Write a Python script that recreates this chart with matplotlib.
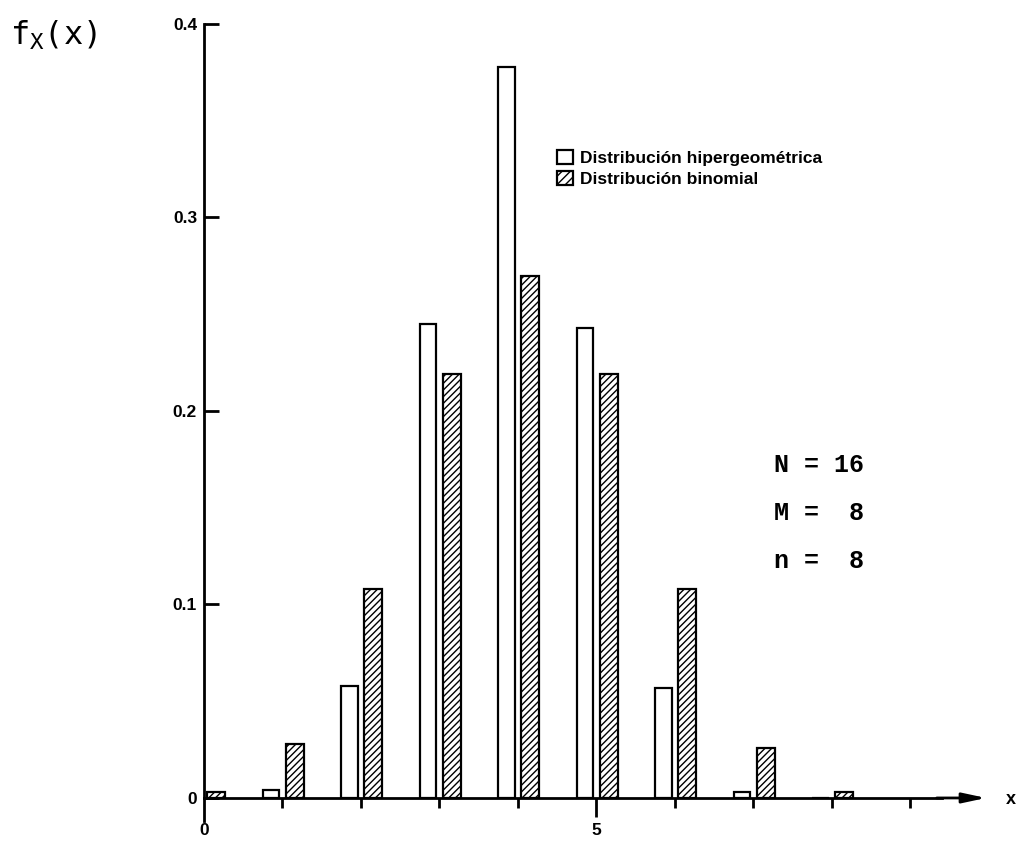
import matplotlib.pyplot as plt
from matplotlib.patches import Patch

# values
x_values = [0, 1, 2, 3, 4, 5, 6, 7, 8]
hyper_values = [0.0, 0.004, 0.058, 0.245, 0.378, 0.243, 0.057, 0.003, 0.0]
binom_values = [0.003, 0.028, 0.108, 0.219, 0.270, 0.219, 0.108, 0.026, 0.003]
y_ticks = [0, 0.1, 0.2, 0.3, 0.4]
y_tick_labels = ["0", "0.1", "0.2", "0.3", "0.4"]
x_ticks = [0, 1, 2, 3, 4, 5, 6, 7, 8, 9]
x_tick_labels = ["0", "", "", "", "", "5", "", "", "", ""]
legend_labels = ["Distribución hipergeométrica", "Distribución binomial"]
param_lines = ["N = 16", "M =  8", "n =  8"]

SANS = "Liberation Sans"
MONO = "Liberation Mono"

fig = plt.figure(figsize=(10.18, 8.48), dpi=100)
ax = fig.add_axes([0.2004, 0.059, 0.771, 0.9127])

gap = 0.04
hyper_w = 0.21
binom_w = 0.23
ax.bar([x - gap for x in x_values], hyper_values, width=hyper_w, align="edge",
       facecolor="white", edgecolor="black", linewidth=1.6)
# shift the hyper bars to the left of each tick
for bar in ax.patches:
    bar.set_x(bar.get_x() - hyper_w)
ax.bar([x + gap for x in x_values], binom_values, width=binom_w, align="edge",
       facecolor="white", edgecolor="black", linewidth=1.6, hatch="/////")

ax.set_xlim(0, 10)
ax.set_ylim(0, 0.4)

for side in ("top", "right"):
    ax.spines[side].set_visible(False)
ax.spines["left"].set_linewidth(2)
ax.spines["bottom"].set_linewidth(2)
ax.spines["bottom"].set_bounds(0, 9.4)

# y axis runs a little below zero, x axis ends in an arrow
ax.plot([0, 0], [-0.012, 0], color="black", lw=2, clip_on=False)
ax.annotate("", xy=(10.0, 0), xytext=(9.3, 0),
            arrowprops=dict(arrowstyle="-|>,head_length=1.4,head_width=0.3",
                            color="black", lw=2),
            annotation_clip=False)

ax.set_yticks(y_ticks)
ax.set_yticklabels(y_tick_labels, fontfamily=SANS, fontweight="bold", fontsize=12.5)
ax.tick_params(axis="y", direction="in", length=11, width=2, pad=5)

ax.set_xticks(x_ticks)
ax.set_xticklabels(x_tick_labels, fontfamily=SANS, fontweight="bold", fontsize=12.5)
ax.tick_params(axis="x", direction="out", length=7, width=2, pad=11)
ax.xaxis.get_major_ticks()[0].tick1line.set_visible(False)
ax.xaxis.get_major_ticks()[5].tick1line.set_markersize(14)

handles = [
    Patch(facecolor="white", edgecolor="black", linewidth=1.6),
    Patch(facecolor="white", edgecolor="black", linewidth=1.6, hatch="////"),
]
ax.legend(handles, legend_labels, loc="upper left", bbox_to_anchor=(0.43, 0.858),
          frameon=False, handlelength=0.9, handleheight=0.9, handletextpad=0.4,
          labelspacing=0.3, prop=dict(family=SANS, weight="bold", size=12.5))

for i, line in enumerate(param_lines):
    fig.text(0.760, 1 - (465 + 48 * i) / 848, line, family=MONO, fontweight="bold",
             fontsize=18, va="center", ha="left")

fig.text(0.010, 1 - 35 / 848, r"$\mathtt{f_X(x)}$", fontsize=23, va="center", ha="left")
fig.text(0.988, 1 - 800 / 848, "x", family=SANS, fontweight="bold",
         fontsize=13, va="center", ha="left")

fig.savefig("out.png", dpi=100)
